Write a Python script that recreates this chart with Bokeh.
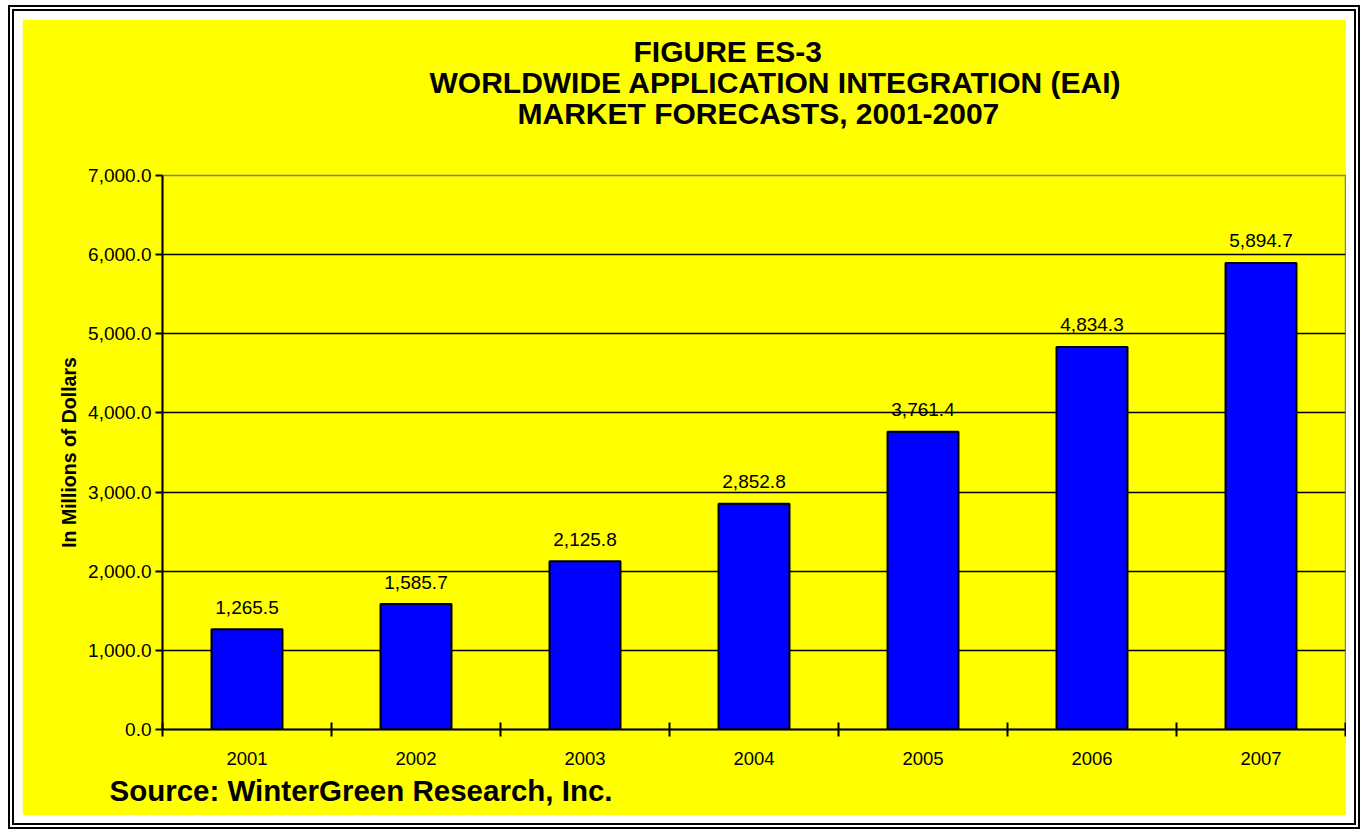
from bokeh.plotting import figure
from bokeh.models import (Range1d, LinearAxis, FixedTicker, NumeralTickFormatter,
                          Title, Grid)
from bokeh.core.properties import value
from bokeh.embed import file_html
from bokeh.resources import INLINE

# ---- data ----
years = ["2001", "2002", "2003", "2004", "2005", "2006", "2007"]
market = [1265.5, 1585.7, 2125.8, 2852.8, 3761.4, 4834.3, 5894.7]
y_ticks = [0, 1000, 2000, 3000, 4000, 5000, 6000, 7000]
title_lines = ["FIGURE ES-3",
               "WORLDWIDE APPLICATION INTEGRATION (EAI)",
               "MARKET FORECASTS,  2001-2007"]
y_title = "In Millions of Dollars"
source_note = "Source: WinterGreen Research, Inc."

FONT = "Liberation Sans"
W, H = 1324, 796

centers = [i + 0.5 for i in range(len(years))]
bounds = list(range(len(years) + 1))
value_labels = [f"{v:,.1f}" for v in market]

p = figure(width=W, height=H, output_backend="svg", toolbar_location=None,
           x_range=Range1d(0, len(years)), y_range=Range1d(y_ticks[0], y_ticks[-1]),
           x_axis_type=None, y_axis_type=None, title=None,
           min_border_left=140, min_border_right=1, min_border_top=156,
           min_border_bottom=86, margin=(19, 0, 0, 22),
           background_fill_color="#FFFF00", border_fill_color="#FFFF00",
           styles={"box-shadow": "0 0 0 8px #ffffff, 0 0 0 10px #000000, "
                                 "0 0 0 12px #ffffff, 0 0 0 14px #000000"})
p.outline_line_color = "#808080"
p.outline_line_width = 1.5

# grid
p.add_layout(Grid(dimension=1, ticker=FixedTicker(ticks=y_ticks[1:-1]),
                  grid_line_color="black", grid_line_width=1.5))

# y axis
yaxis = LinearAxis(ticker=FixedTicker(ticks=y_ticks),
                   formatter=NumeralTickFormatter(format="0,0.0"),
                   axis_label=y_title,
                   axis_label_text_font=FONT, axis_label_text_font_size="19.5px",
                   axis_label_text_font_style="bold", axis_label_text_color="black",
                   axis_label_standoff=5,
                   major_label_text_font=FONT, major_label_text_font_size="19px",
                   major_label_text_color="black", major_label_standoff=4,
                   major_tick_in=0, major_tick_out=7,
                   major_tick_line_color="black", major_tick_line_width=2,
                   minor_tick_line_color=None,
                   axis_line_color="black", axis_line_width=2)
p.add_layout(yaxis, "left")

# x axis: labels at category centers, tick marks at category boundaries
xaxis = LinearAxis(ticker=FixedTicker(ticks=centers, minor_ticks=bounds),
                   major_label_overrides={c: y for c, y in zip(centers, years)},
                   major_label_text_font=FONT, major_label_text_font_size="18.5px",
                   major_label_text_color="black", major_label_standoff=15,
                   major_tick_in=0, major_tick_out=0, major_tick_line_color=None,
                   minor_tick_in=7, minor_tick_out=7,
                   minor_tick_line_color="black", minor_tick_line_width=2,
                   axis_line_color="black", axis_line_width=2)
p.add_layout(xaxis, "below")

# source note under the axis
p.add_layout(Title(text=source_note, align="left", offset=-53, vertical_align="top",
                   standoff=13, text_font=FONT, text_font_size="29.5px",
                   text_font_style="bold", text_color="black"), "below")

# bars
p.vbar(x=centers, top=market, bottom=0, width=0.42,
       fill_color="#0000FF", line_color="black", line_width=2)

# value labels
p.text(x=centers, y=market, text=value_labels, text_font=value(FONT),
       text_font_size=value("19px"), text_color="black",
       text_align="center", text_baseline="alphabetic", y_offset=-22)

# title block (stacked upward from the plot frame)
p.add_layout(Title(text=" ", text_font_size="10px", standoff=35), "above")
title_offsets = [471, 267, 355]
for t, off in reversed(list(zip(title_lines, title_offsets))):
    p.add_layout(Title(text=t, align="left", offset=off, standoff=-4,
                       text_font=FONT, text_font_size="30px", text_font_style="bold",
                       text_color="black"), "above")

open("out.html", "w").write(file_html(p, INLINE))
